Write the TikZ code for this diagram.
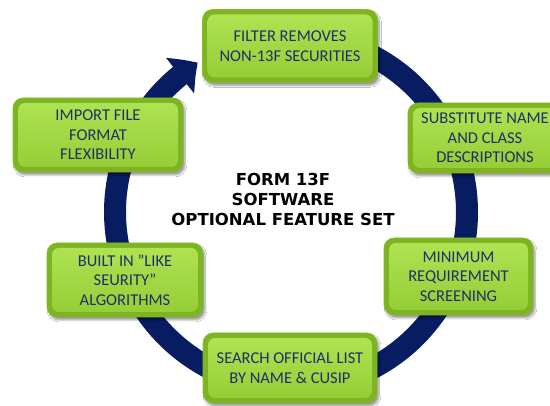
\documentclass[tikz,border=0pt]{standalone}
\usepackage{fontspec}
\setmainfont{Carlito}
\newfontfamily\titlefont{DejaVu Sans}
\usetikzlibrary{arrows.meta,bending,shadows.blur,calc}
\definecolor{ringblue}{RGB}{8,28,98}
\definecolor{txtblue}{RGB}{30,48,104}
\definecolor{gedge}{RGB}{124,180,34}
\definecolor{gtop}{RGB}{176,228,84}
\definecolor{gbot}{RGB}{148,204,52}
\definecolor{gborder}{RGB}{134,188,44}
\tikzset{
  ring/.style={draw=ringblue, line width=22pt},
  gbox/.style={rectangle, rounded corners=10pt, fill=gedge, draw=gborder, line width=0.6pt,
    blur shadow={shadow xshift=2pt, shadow yshift=-3pt, shadow blur steps=6, shadow opacity=40},
    text=txtblue, align=center, font=\fontsize{16.5}{19.5}\selectfont, inner sep=2pt,
    path picture={
      \fill[rounded corners=7pt, top color=gtop, bottom color=gbot]
        ($(path picture bounding box.south west)+(5,5)$) rectangle
        ($(path picture bounding box.north east)+(-5,-5)$);
    }},
  title/.style={align=center, font=\titlefont\bfseries\fontsize{16.5}{20}\selectfont, text=black}
}
\begin{document}
\begin{tikzpicture}[x=1pt,y=1pt]
\useasboundingbox (0,0) rectangle (550,406);
\clip (0,0) rectangle (550,406);
\fill[white] (0,0) rectangle (550,406);
\coordinate (c) at (291,194);
\draw[ring, -{Triangle[bend,width=44pt,length=22pt]}] ([shift={(95:176)}]c) arc[start angle=95, end angle=-238, radius=176];
\node[gbox, minimum width=175pt, minimum height=73pt] (n1) at (290,360) {FILTER REMOVES\\NON-13F SECURITIES};
\node[gbox, minimum width=154pt, minimum height=70pt] (n2) at (485,268) {SUBSTITUTE NAME\\AND CLASS\\DESCRIPTIONS};
\node[gbox, minimum width=149pt, minimum height=77pt] (n5) at (458.5,129.5) {MINIMUM\\REQUIREMENT\\SCREENING};
\node[gbox, minimum width=174pt, minimum height=70pt] (n6) at (290,38) {SEARCH OFFICIAL LIST\\BY NAME \& CUSIP};
\node[gbox, minimum width=156pt, minimum height=74pt] (n4) at (125,126) {BUILT IN "LIKE\\SEURITY"\\ALGORITHMS};
\node[gbox, minimum width=170pt, minimum height=74pt] (n3) at (98,271) {IMPORT FILE\\FORMAT\\FLEXIBILITY};
\node[title] (t) at (283,206) {FORM 13F\\SOFTWARE\\OPTIONAL FEATURE SET};
\end{tikzpicture}
\end{document}
